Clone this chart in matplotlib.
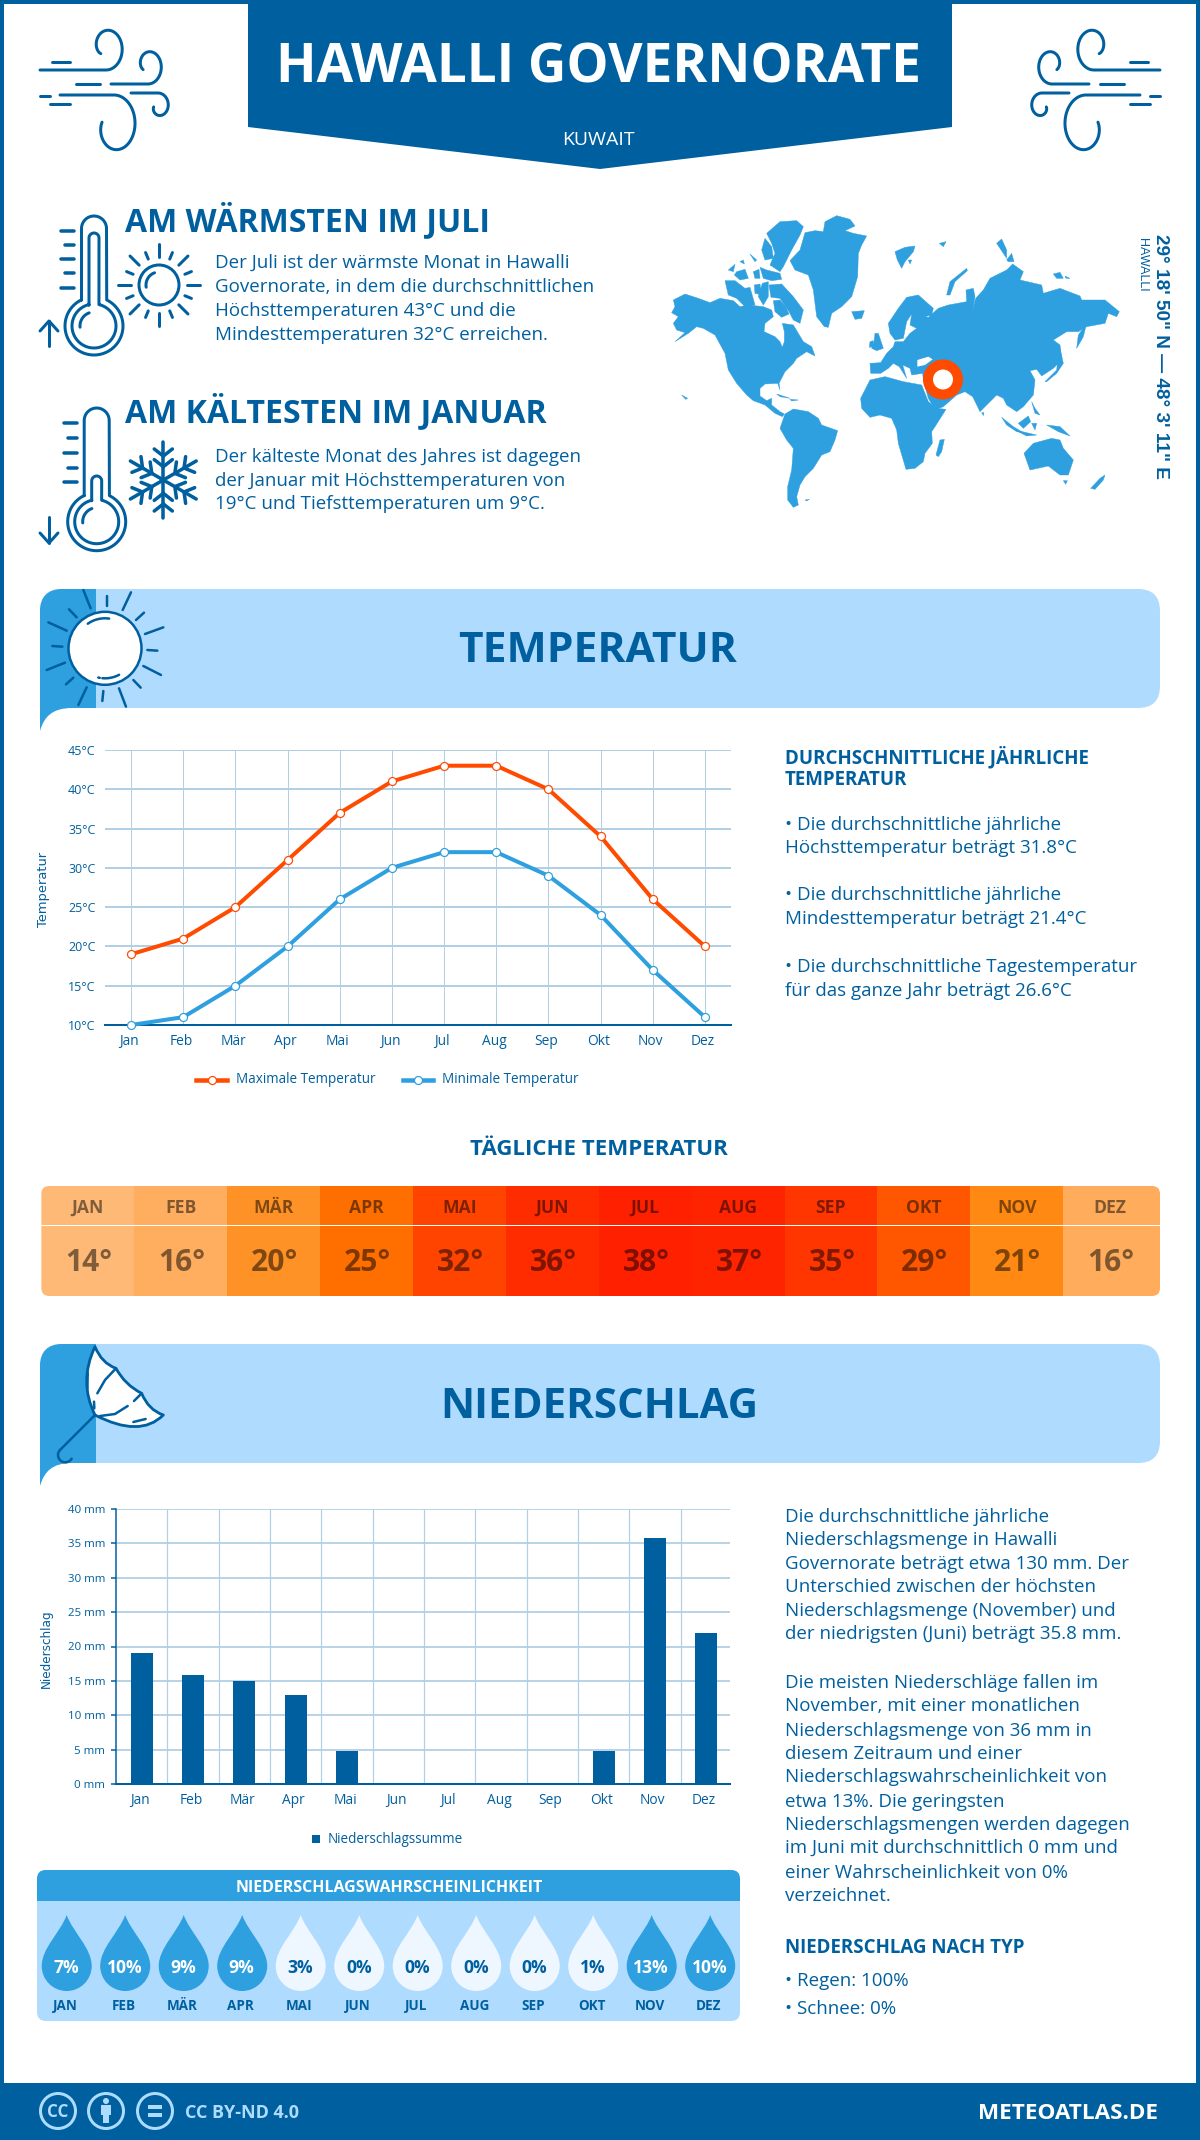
import numpy as np
import matplotlib
matplotlib.use('Agg')
import matplotlib.pyplot as plt
from matplotlib.patches import Rectangle, Circle, FancyBboxPatch, PathPatch, Polygon
from matplotlib.path import Path
from matplotlib.transforms import ScaledTranslation

plt.rcParams['font.family'] = ['Open Sans', 'DejaVu Sans']

# data
months = ['Jan', 'Feb', 'Mär', 'Apr', 'Mai', 'Jun', 'Jul', 'Aug', 'Sep', 'Okt', 'Nov', 'Dez']
months_up = ['JAN', 'FEB', 'MÄR', 'APR', 'MAI', 'JUN', 'JUL', 'AUG', 'SEP', 'OKT', 'NOV', 'DEZ']
temp_max = [19, 21, 25, 31, 37, 41, 43, 43, 40, 34, 26, 20]
temp_min = [10, 11, 15, 20, 26, 30, 32, 32, 29, 24, 17, 11]
temp_day = [14, 16, 20, 25, 32, 36, 38, 37, 35, 29, 21, 16]
rain_mm = [19, 15.8, 15, 13, 4.8, 0, 0, 0, 0, 4.8, 35.8, 22]
rain_prob = [7, 10, 9, 9, 3, 0, 0, 0, 0, 1, 13, 10]
temp_ticks = [10, 15, 20, 25, 30, 35, 40, 45]
rain_ticks = [0, 5, 10, 15, 20, 25, 30, 35, 40]

DARK = '#005f9e'
MID = '#2e9fdf'
LIGHT = '#afdbff'
ORANGE = '#ff4b00'
GRID = '#b3cfe3'
day_colors = ['#ffb976', '#ffad5e', '#ff9226', '#ff6f00', '#ff4400', '#ff2c00',
              '#ff2000', '#ff2400', '#ff3600', '#ff5700', '#ff8912', '#ffad5c']

W, H = 1200, 2140
fig = plt.figure(figsize=(W / 100, H / 100), dpi=100)
ax = fig.add_axes([0, 0, 1, 1])
ax.set_xlim(0, W)
ax.set_ylim(H, 0)
ax.axis('off')


def px(v):
    # pixels to points
    return v * 0.72


def txt(x, y, s, size, color=DARK, weight='normal', ha='left', va='center', **kw):
    # matplotlib centres on a box with descender, caps sit too high without this
    if s.upper() == s and 'rotation' not in kw:
        y = y + 0.115 * size
    return ax.text(x, y, s, fontsize=px(size), color=color, fontweight=weight, ha=ha, va=va, **kw)


def stroke(xs, ys, lw=3, color=DARK, z=5):
    ax.plot(xs, ys, color=color, lw=px(lw), solid_capstyle='round', solid_joinstyle='round', zorder=z)


def arc(cx, cy, rx, ry, a0, a1, lw=3, color=DARK, z=5):
    a = np.radians(np.linspace(a0, a1, 60))
    stroke(cx + rx * np.cos(a), cy + ry * np.sin(a), lw, color, z)


def spiral(cx, cy, rx, ry, shrink, a0, a1):
    a = np.radians(np.linspace(a0, a1, 80))
    t = np.linspace(0, 1, 80)
    f = 1 - (1 - shrink) * t ** 2
    return cx + rx * f * np.cos(a), cy + ry * f * np.sin(a)


def wind(flip=False):
    def X(v):
        v = np.asarray(v, dtype=float)
        return 1200 - v if flip else v

    # top curl
    sx, sy = spiral(106, 48, 17, 22, 0.4, 90, -220)
    stroke(X(np.r_[40, 104, sx]), np.r_[70, 70, sy])
    stroke(X([52, 70]), [62, 62])
    # right curl
    sx, sy = spiral(148, 66, 14, 18, 0.4, 90, -210)
    stroke(X(np.r_[111, 146, sx]), np.r_[84, 84, sy])
    stroke(X([76, 100]), [84, 84])
    # big lower curl
    sx, sy = spiral(114, 125, 22, 30, 0.55, -90, 190)
    stroke(X(np.r_[60, 112, sx]), np.r_[95, 95, sy])
    stroke(X([40, 50]), [96, 96])
    stroke(X([50, 70]), [104, 104])
    # small right curl
    sx, sy = spiral(158, 106, 11, 13, 0.4, -90, 170)
    stroke(X(np.r_[131, 156, sx]), np.r_[93, 93, sy])


def thermometer(cx, top, by, fill_top, ticks, arrow):
    hw = 12.5
    r_out, r_in = 29, 22
    cap = np.radians(np.linspace(180, 360, 20))
    a_out = np.radians(np.linspace(-64, 244, 80))
    xs = np.r_[cx - hw, cx + hw * np.cos(cap), cx + r_out * np.cos(a_out), cx - hw]
    ys = np.r_[by - 26, top + hw + hw * np.sin(cap), by + r_out * np.sin(a_out), by - 26]
    stroke(xs, ys)
    # inner tube and ring
    a_in = np.radians(np.linspace(-77, 257, 80))
    xs = np.r_[cx - 5, cx + 5 * np.cos(cap), cx + r_in * np.cos(a_in), cx - 5]
    ys = np.r_[by - 21, fill_top + 5 + 5 * np.sin(cap), by + r_in * np.sin(a_in), by - 21]
    stroke(xs, ys)
    arc(cx, by, 14, 14, 175, 250)
    for i, ty in enumerate(ticks):
        stroke([cx - 33 if i % 2 == 0 else cx - 29, cx - 20], [ty, ty], 3.5)
    x0, y0, y1 = arrow
    stroke([x0, x0], [y0, y1], 3)
    d = 10 if y1 > y0 else -10
    stroke([x0 - 9, x0, x0 + 9], [y1 - d, y1, y1 - d], 3)


def sun_rays(cx, cy, r0, r1, n, lw=3, color=DARK):
    for i in range(n):
        a = np.radians(i * 360 / n)
        rr = r1 if i % 2 == 0 else r0 + (r1 - r0) * 0.55
        stroke([cx + r0 * np.cos(a), cx + rr * np.cos(a)], [cy + r0 * np.sin(a), cy + rr * np.sin(a)], lw, color)


def snowflake(cx, cy, r):
    for i in range(6):
        a = np.radians(90 + i * 60)
        ux, uy = np.cos(a), np.sin(a)
        stroke([cx, cx + r * ux], [cy, cy + r * uy], 3.5)
        for f in (0.35, 0.63):
            for sgn in (-1, 1):
                b = a + sgn * np.radians(52)
                bx, by = cx + f * r * ux, cy + f * r * uy
                stroke([bx, bx + 11.5 * np.cos(b)], [by, by + 11.5 * np.sin(b)], 3.5)


def band(y0, y1, tail):
    ax.add_patch(FancyBboxPatch((40, y0), 1120, y1 - y0, boxstyle='round,pad=0,rounding_size=22',
                                fc=LIGHT, ec='none', zorder=1))
    verts = [(96, y0), (62, y0), (48, y0), (40, y0 + 8), (40, y0 + 22), (40, tail),
             (44, tail - 14), (52, y1), (72, y1), (96, y1), (96, y0)]
    codes = [Path.MOVETO, Path.LINETO, Path.CURVE4, Path.CURVE4, Path.CURVE4, Path.LINETO,
             Path.CURVE4, Path.CURVE4, Path.CURVE4, Path.LINETO, Path.CLOSEPOLY]
    ax.add_patch(PathPatch(Path(verts, codes), fc=MID, ec='none', zorder=2))


# page frame
ax.add_patch(Rectangle((0, 0), 4, H, fc=DARK, ec='none'))
ax.add_patch(Rectangle((W - 4, 0), 4, H, fc=DARK, ec='none'))
ax.add_patch(Rectangle((0, 0), W, 4, fc=DARK, ec='none'))

# title banner
ax.add_patch(Polygon([(248, 0), (952, 0), (952, 127), (600, 169), (248, 127)], fc=DARK, ec='none', zorder=2))
txt(598.5, 62, 'HAWALLI GOVERNORATE', 53, 'white', 'bold', ha='center', zorder=3)
txt(598, 138, 'KUWAIT', 19.5, 'white', ha='center', zorder=3)
wind()
wind(flip=True)

# warm and cold blocks
txt(125, 217.5, 'AM WÄRMSTEN IM JULI', 32, weight='bold')
warm_lines = ['Der Juli ist der wärmste Monat in Hawalli', 'Governorate, in dem die durchschnittlichen',
              'Höchsttemperaturen 43°C und die', 'Mindesttemperaturen 32°C erreichen.']
for i, s in enumerate(warm_lines):
    txt(215, 262.5 + i * 24, s, 18.8)
thermometer(94, 216, 326, 233, [231, 245, 259, 273, 288], (49, 346, 321))
ax.add_patch(Circle((159, 285), 20, fc='white', ec=DARK, lw=px(3), zorder=5))
arc(159, 285, 13, 13, 170, 250)
sun_rays(159, 285, 28, 41, 16)

txt(125, 408.5, 'AM KÄLTESTEN IM JANUAR', 32, weight='bold')
cold_lines = ['Der kälteste Monat des Jahres ist dagegen', 'der Januar mit Höchsttemperaturen von',
              '19°C und Tiefsttemperaturen um 9°C.']
for i, s in enumerate(cold_lines):
    txt(215, 457 + i * 23.5, s, 18.8)
thermometer(96.7, 408, 521.7, 476, [423, 438, 453, 468, 482], (49, 517, 543))
snowflake(163.3, 480, 38)

# world map, coastlines sketched by eye on two 3x crops of the map area
land_west = [
    # north america
    [(20, 308), (30, 290), (25, 270), (60, 252), (100, 265), (135, 278), (165, 265), (205, 272), (225, 290), (250, 285),
     (295, 290), (320, 300), (325, 320), (300, 340), (297, 365), (330, 380), (345, 395), (352, 412), (358, 395),
     (358, 365), (352, 340), (385, 345), (400, 370), (415, 395), (440, 410), (450, 438), (425, 425), (395, 445),
     (385, 460), (360, 485), (342, 520), (345, 540), (338, 520), (300, 522), (285, 535), (285, 558), (305, 572),
     (320, 565), (320, 585), (345, 605), (358, 612), (352, 620), (330, 610), (300, 585), (265, 572), (245, 555),
     (215, 520), (190, 480), (180, 430), (150, 375), (115, 355), (95, 350), (70, 370), (30, 395), (60, 368), (35, 360),
     (25, 340), (40, 320)],
    # south america
    [(345, 655), (360, 612), (385, 597), (430, 605), (460, 625), (470, 645), (518, 662), (510, 690), (495, 725),
     (470, 735), (445, 775), (420, 800), (405, 825), (395, 860), (400, 885), (385, 892), (368, 870), (368, 830),
     (380, 780), (385, 715), (365, 690)],
    # greenland
    [(375, 152), (405, 120), (420, 68), (450, 62), (475, 65), (480, 35), (515, 17), (555, 28), (570, 48), (540, 62),
     (565, 70), (605, 78), (590, 105), (580, 130), (578, 200), (560, 260), (530, 290), (500, 310), (490, 352),
     (478, 350), (455, 320), (450, 280), (445, 240), (430, 195), (390, 180)],
    # arctic islands
    [(305, 70), (345, 35), (395, 32), (415, 50), (405, 75), (380, 120), (355, 170), (345, 185), (315, 165), (330, 130),
     (320, 100)],
    [(290, 120), (300, 85), (320, 110), (325, 145), (300, 150)],
    [(190, 180), (210, 163), (205, 185)],
    [(215, 185), (240, 178), (250, 205), (225, 210), (208, 195)],
    [(255, 132), (275, 150), (270, 155)],
    [(225, 155), (235, 150), (238, 162)],
    [(265, 185), (282, 178), (285, 205), (270, 205)],
    [(285, 172), (305, 180), (345, 190), (350, 208), (320, 212), (295, 205)],
    [(180, 212), (210, 212), (240, 235), (255, 232), (270, 285), (240, 290), (215, 265), (190, 255)],
    [(268, 225), (285, 222), (290, 255), (270, 250)],
    [(292, 220), (310, 215), (310, 260), (295, 285), (280, 260)],
    [(312, 225), (350, 222), (385, 260), (415, 300), (405, 340), (385, 330), (372, 305), (345, 265), (318, 262)],
    [(325, 272), (345, 270), (362, 290), (372, 312), (350, 322), (330, 305)],
    # iceland and small ones
    [(560, 305), (598, 302), (590, 325), (570, 328)],
    [(50, 555), (68, 565), (62, 568)],
    [(335, 552), (375, 565), (345, 560)],
    [(375, 568), (400, 570), (380, 573)],
    [(420, 870), (433, 868), (425, 873)],
]
land_east = [
    # eurasia
    [(30, 460), (62, 458), (80, 430), (100, 410), (105, 395), (130, 395), (150, 370), (170, 355), (150, 345), (155, 312),
     (140, 335), (130, 385), (105, 390), (90, 370), (85, 340), (115, 295), (140, 262), (175, 255), (220, 295),
     (215, 315), (195, 320), (205, 322), (235, 295), (265, 285), (320, 275), (318, 240), (340, 235), (345, 260),
     (338, 300), (347, 265), (370, 240), (390, 205), (440, 180), (458, 162), (490, 185), (480, 210), (545, 225),
     (550, 250), (600, 235), (660, 258), (665, 270), (735, 270), (778, 305), (770, 320), (745, 310), (735, 340),
     (680, 350), (655, 365), (620, 365), (580, 390), (600, 405), (605, 450), (580, 475), (545, 498), (530, 478),
     (510, 482), (525, 510), (520, 555), (490, 590), (470, 605), (440, 585), (430, 565), (410, 555), (360, 605),
     (338, 560), (315, 545), (290, 555), (250, 590), (225, 600), (205, 565), (190, 510), (188, 490), (155, 495),
     (150, 475), (128, 465), (140, 505), (118, 470), (100, 460), (85, 475), (62, 490), (32, 490)],
    # africa
    [(2, 565), (30, 510), (75, 500), (130, 515), (185, 525), (205, 575), (230, 595), (258, 598), (225, 650), (215, 665),
     (217, 700), (195, 730), (190, 755), (165, 775), (138, 778), (115, 700), (110, 660), (95, 625), (60, 615),
     (30, 622), (5, 595)],
    # islands
    [(650, 415), (655, 375), (680, 340), (670, 380)],
    [(555, 515), (590, 480), (598, 405), (610, 460), (590, 490), (560, 515)],
    [(228, 735), (240, 690), (253, 688), (245, 725), (235, 740)],
    [(365, 608), (372, 608), (370, 617)],
    [(425, 622), (460, 650), (490, 668), (470, 665), (440, 645)],
    [(475, 640), (505, 618), (512, 635), (490, 655)],
    [(515, 575), (525, 595), (540, 615), (525, 610)],
    [(515, 640), (530, 640), (525, 660)],
    [(560, 645), (600, 650), (630, 678), (595, 665)],
    [(465, 660), (530, 675), (500, 678)],
    [(492, 730), (520, 700), (575, 685), (600, 690), (610, 715), (640, 750), (625, 795), (600, 795), (565, 768),
     (510, 780)],
    [(610, 812), (622, 812), (617, 823)],
    [(692, 835), (720, 805), (735, 795), (730, 810), (705, 838)],
    [(105, 125), (135, 112), (165, 108), (160, 125), (135, 155), (125, 175), (112, 150)],
    [(145, 150), (155, 150), (150, 162)],
    [(260, 255), (270, 215), (320, 175), (322, 182), (285, 215), (270, 255)],
    [(238, 100), (258, 95), (250, 110)],
    [(410, 100), (425, 87), (440, 120), (440, 145)],
    [(440, 150), (455, 130), (462, 155), (445, 155)],
    [(580, 192), (600, 187), (610, 205), (590, 205)],
    [(615, 198), (630, 205), (618, 205)],
    [(45, 370), (55, 370), (70, 415), (50, 422), (35, 415), (42, 395)],
    [(30, 395), (40, 392), (40, 410), (28, 412)],
]
for shape in land_west:
    pts = [(x / 3 + 665, y / 3 + 210) for x, y in shape]
    ax.add_patch(Polygon(pts, closed=True, fc=MID, ec=MID, lw=0.3, zorder=2))
for shape in land_east:
    pts = [(x / 3 + 860, y / 3 + 210) for x, y in shape]
    ax.add_patch(Polygon(pts, closed=True, fc=MID, ec=MID, lw=0.3, zorder=2))
# black sea
black_sea = [(172, 450), (205, 440), (218, 448), (195, 465), (172, 470)]
ax.add_patch(Polygon([(x / 3 + 860, y / 3 + 210) for x, y in black_sea], fc='white', ec='none', zorder=3))
ax.add_patch(Circle((943, 379.5), 15, fc='white', ec=ORANGE, lw=px(10), zorder=4))

txt(1161, 356, '29° 18\' 50" N — 48° 3\' 11" E', 19, weight='bold', family='Liberation Sans',
    ha='center', rotation=270, rotation_mode='anchor')
txt(1142.5, 265, 'HAWALLI', 12.5, family='Liberation Sans', ha='center', rotation=270, rotation_mode='anchor')

# temperature section
band(589, 708, 731)
txt(598, 647, 'TEMPERATUR', 42.5, weight='bold', ha='center', zorder=3)
ax.add_patch(Circle((105, 648.3), 36.5, fc='white', ec=DARK, lw=px(2.5), zorder=5))
sun_big_rays = [((160, 30), (182, 85)), ((230, 47), (230, 78)), ((303, 37), (278, 90)), ((342, 98), (318, 120)),
                ((400, 142), (345, 162)), ((382, 212), (352, 210)), ((393, 285), (340, 258)), ((332, 323), (310, 300)),
                ((267, 325), (288, 380)), ((217, 363), (220, 333)), ((170, 322), (145, 375)), ((130, 293), (108, 313)),
                ((105, 248), (50, 270)), ((97, 200), (67, 198)), ((110, 152), (55, 127)), ((140, 112), (117, 88))]
for p, q in sun_big_rays:
    stroke([p[0] / 3 + 30, q[0] / 3 + 30], [p[1] / 3 + 580, q[1] / 3 + 580], 2.5)
arc(105, 648.3, 30, 30, 235, 278, 2.5)
arc(105, 648.3, 30, 30, 62, 95, 2.5)
arc(105, 648.3, 30, 30, 100, 103, 2.5)


def chart_axes(l, t, r, b):
    return fig.add_axes([l / W, 1 - b / H, (r - l) / W, (b - t) / H])


def style_chart(a, right=11.5):
    a.set_xlim(-0.5, right)
    a.set_xticks(range(12))
    a.set_xticklabels(months)
    a.tick_params(axis='x', length=0, labelsize=px(13.8), labelcolor=DARK, pad=px(9))
    a.set_axisbelow(True)
    for name in ('top', 'right', 'left'):
        a.spines[name].set_visible(False)
    a.spines['bottom'].set_color(DARK)
    a.spines['bottom'].set_linewidth(px(2))
    off = ScaledTranslation(-2 / 100, 0, fig.dpi_scale_trans)
    for lab in a.get_xticklabels():
        lab.set_transform(lab.get_transform() + off)


t_ax = chart_axes(105, 750, 731, 1025)
style_chart(t_ax)
t_ax.set_ylim(10, 45)
t_ax.set_yticks(temp_ticks)
t_ax.set_yticklabels(['%d°C' % v for v in temp_ticks])
t_ax.tick_params(axis='y', length=0, labelsize=px(12.5), labelcolor=DARK, pad=px(9.5))
t_ax.grid(axis='y', color=GRID, lw=px(2))
t_ax.grid(axis='x', color=GRID, lw=px(1))
t_ax.plot(range(12), temp_max, color=ORANGE, lw=px(4), marker='o', ms=px(8), mfc='white', mec=ORANGE,
          mew=px(1.2), clip_on=False, zorder=5)
t_ax.plot(range(12), temp_min, color=MID, lw=px(4), marker='o', ms=px(8), mfc='white', mec=MID,
          mew=px(1.2), clip_on=False, zorder=5)
txt(44, 889, 'Temperatur', 13, family='DejaVu Sans', rotation=90, ha='center')

for x0, x1, col, lab, tx in ((196, 227, ORANGE, 'Maximale Temperatur', 236), (403, 433, MID, 'Minimale Temperatur', 442)):
    ax.plot([x0, x1], [1079.5, 1079.5], color=col, lw=px(4.5), zorder=5)
    ax.plot([(x0 + x1) / 2], [1079.5], marker='o', ms=px(8), mfc='white', mec=col, mew=px(1.2), zorder=6)
    txt(tx, 1079.5, lab, 13.5)

txt(785, 755, 'DURCHSCHNITTLICHE JÄHRLICHE', 18.8, weight='bold')
txt(785, 778, 'TEMPERATUR', 18.8, weight='bold')
temp_notes = [(825, '• Die durchschnittliche jährliche'), (848, 'Höchsttemperatur beträgt 31.8°C'),
              (895.5, '• Die durchschnittliche jährliche'), (919.5, 'Mindesttemperatur beträgt 21.4°C'),
              (967, '• Die durchschnittliche Tagestemperatur'), (991, 'für das ganze Jahr beträgt 26.6°C')]
for y, s in temp_notes:
    txt(785, y, s, 18.8)

# daily strip
txt(599, 1147, 'TÄGLICHE TEMPERATUR', 22.3, weight='bold', ha='center')
clip = FancyBboxPatch((41.3, 1186), 1118.7, 110, boxstyle='round,pad=0,rounding_size=8', fc='none', ec='none',
                      transform=ax.transData)
ax.add_patch(clip)
cell = 92.9
for i, (m, v, c) in enumerate(zip(months_up, temp_day, day_colors)):
    r = Rectangle((41.3 + i * cell, 1186), cell + 4, 110, fc=c, ec='none', zorder=2 + i * 0.01)
    ax.add_patch(r)
    r.set_clip_path(clip)
    cx = 41.3 + (i + 0.5) * cell
    txt(cx, 1206, m, 17.5, '#00000080', 'bold', ha='center', zorder=3)
    txt(cx + 1, 1260, '%d°' % v, 30, '#00000080', 'bold', ha='center', zorder=3)
ax.add_patch(Rectangle((41, 1224.5), 1119, 1.5, fc='white', ec='none', zorder=3))

# precipitation section
band(1344, 1463, 1486)
txt(599, 1403, 'NIEDERSCHLAG', 42, weight='bold', ha='center', zorder=3)


def uc(pts):
    # umbrella crop coordinates to page
    return [(x / 3 + 40, y / 3 + 1340) for x, y in pts]


canopy = [(165, 225), (115, 125), (165, 20), (185, 70), (228, 85), (255, 135), (305, 160), (325, 210), (370, 225),
          (300, 295), (165, 225), (165, 225)]
canopy_codes = [Path.MOVETO] + [Path.CURVE3] * 10 + [Path.CLOSEPOLY]
ax.add_patch(PathPatch(Path(uc(canopy), canopy_codes), fc='white', ec=DARK, lw=px(2.8), joinstyle='round', zorder=5))
for part in ([(228, 85), (195, 120), (172, 160)], [(162, 185), (163, 205)], [(305, 160), (282, 183)],
             [(263, 198), (225, 222), (180, 228)], [(143, 100), (142, 145)], [(280, 246), (317, 237)],
             [(165, 225), (60, 330)]):
    q = uc(part)
    stroke([p[0] for p in q], [p[1] for p in q], 2.5)
hx, hy = uc([(76, 345)])[0]
arc(hx, hy, 7.3, 7.3, 225, 30, 2.5)

r_ax = chart_axes(116, 1509, 730.3, 1784)
style_chart(r_ax, right=11.47)
r_ax.set_ylim(0, 40)
r_ax.set_yticks(rain_ticks)
r_ax.set_yticklabels(['%d mm' % v for v in rain_ticks])
r_ax.tick_params(axis='y', length=px(5), width=px(1.5), color=DARK, labelsize=px(11.5), labelcolor=DARK, pad=px(6))
r_ax.spines['left'].set_visible(True)
r_ax.spines['left'].set_color(DARK)
r_ax.spines['left'].set_linewidth(px(1.5))
r_ax.set_xticks(np.arange(0.5, 11), minor=True)
r_ax.tick_params(axis='x', which='minor', length=0)
r_ax.grid(axis='y', color=GRID, lw=px(1.8))
r_ax.grid(axis='x', which='minor', color=GRID, lw=px(1.2))
r_ax.bar(range(12), rain_mm, width=0.43, color=DARK, zorder=3)
txt(46, 1649, 'Niederschlag', 12, family='DejaVu Sans', rotation=90, ha='center')

ax.add_patch(Rectangle((312, 1835), 8, 8, fc=DARK, ec='none'))
txt(328, 1839.5, 'Niederschlagssumme', 13.5)

# rain text
rain_notes = [(1111, 'Die durchschnittliche jährliche'), (1128, 'Niederschlagsmenge in Hawalli'),
              (1146, 'Governorate beträgt etwa 130 mm. Der'), (1163, 'Unterschied zwischen der höchsten'),
              (1180, 'Niederschlagsmenge (November) und'), (1197, 'der niedrigsten (Juni) beträgt 35.8 mm.'),
              (1233, 'Die meisten Niederschläge fallen im'), (1250, 'November, mit einer monatlichen'),
              (1268, 'Niederschlagsmenge von 36 mm in'), (1285, 'diesem Zeitraum und einer'),
              (1302, 'Niederschlagswahrscheinlichkeit von'), (1320, 'etwa 13%. Die geringsten'),
              (1337, 'Niederschlagsmengen werden dagegen'), (1354, 'im Juni mit durchschnittlich 0 mm und'),
              (1372, 'einer Wahrscheinlichkeit von 0%'), (1389, 'verzeichnet.'),
              (1451, '• Regen: 100%'), (1472, '• Schnee: 0%')]
for y, s in rain_notes:
    txt(785, y * 1.365, s, 18.8)
txt(785, 1426 * 1.365 - 1, 'NIEDERSCHLAG NACH TYP', 18.8, weight='bold')

# probability panel
panel = FancyBboxPatch((37, 1870), 703, 151, boxstyle='round,pad=0,rounding_size=9', fc=LIGHT, ec='none', zorder=1)
ax.add_patch(panel)
head = Rectangle((37, 1870), 703, 31, fc=MID, ec='none', zorder=2)
ax.add_patch(head)
head.set_clip_path(panel)
txt(389, 1886, 'NIEDERSCHLAGSWAHRSCHEINLICHKEIT', 16, 'white', 'bold', ha='center', zorder=3)


def drop(cx, color):
    top, cy, r = 1915, 1966, 25
    k = r * 0.5523
    verts = [(cx, top), (cx + 6, 1932), (cx + r, 1948), (cx + r, cy),
             (cx + r, cy + k), (cx + k, cy + r), (cx, cy + r),
             (cx - k, cy + r), (cx - r, cy + k), (cx - r, cy),
             (cx - r, 1948), (cx - 6, 1932), (cx, top), (cx, top)]
    codes = [Path.MOVETO] + [Path.CURVE4] * 12 + [Path.CLOSEPOLY]
    ax.add_patch(PathPatch(Path(verts, codes), fc=color, ec='none', zorder=3))


for i, (m, p) in enumerate(zip(months_up, rain_prob)):
    cx = 66.7 + i * 58.5
    high = p >= 5
    drop(cx, MID if high else '#eef7ff')
    txt(cx - 0.5, 1966, '%d%%' % p, 17.5, 'white' if high else DARK, 'bold', ha='center', zorder=4)
    txt(cx - 1.5, 2004.5, m, 13.5, DARK, 'bold', ha='center', zorder=4)

# footer
ax.add_patch(Rectangle((0, 2083), W, 57, fc=DARK, ec='none', zorder=2))
ICON = '#aedcff'
for cx in (58, 106, 155):
    ax.add_patch(Circle((cx, 2111), 17.5, fc='none', ec=ICON, lw=px(3), zorder=3))
txt(58, 2110, 'CC', 17, ICON, 'bold', ha='center', zorder=4)
ax.add_patch(Circle((106, 2101), 3, fc=ICON, ec='none', zorder=4))
ax.add_patch(Rectangle((101, 2105), 10, 10, fc=ICON, ec='none', zorder=4))
ax.add_patch(Rectangle((103, 2115), 6, 8, fc=ICON, ec='none', zorder=4))
ax.add_patch(Rectangle((148, 2105), 14, 3.5, fc=ICON, ec='none', zorder=4))
ax.add_patch(Rectangle((148, 2113), 14, 3.5, fc=ICON, ec='none', zorder=4))
txt(185, 2111, 'CC BY-ND 4.0', 18, ICON, 'bold', zorder=4)
txt(1158, 2111, 'METEOATLAS.DE', 22.5, 'white', 'bold', ha='right', zorder=4)

fig.savefig('out.png', dpi=100)
